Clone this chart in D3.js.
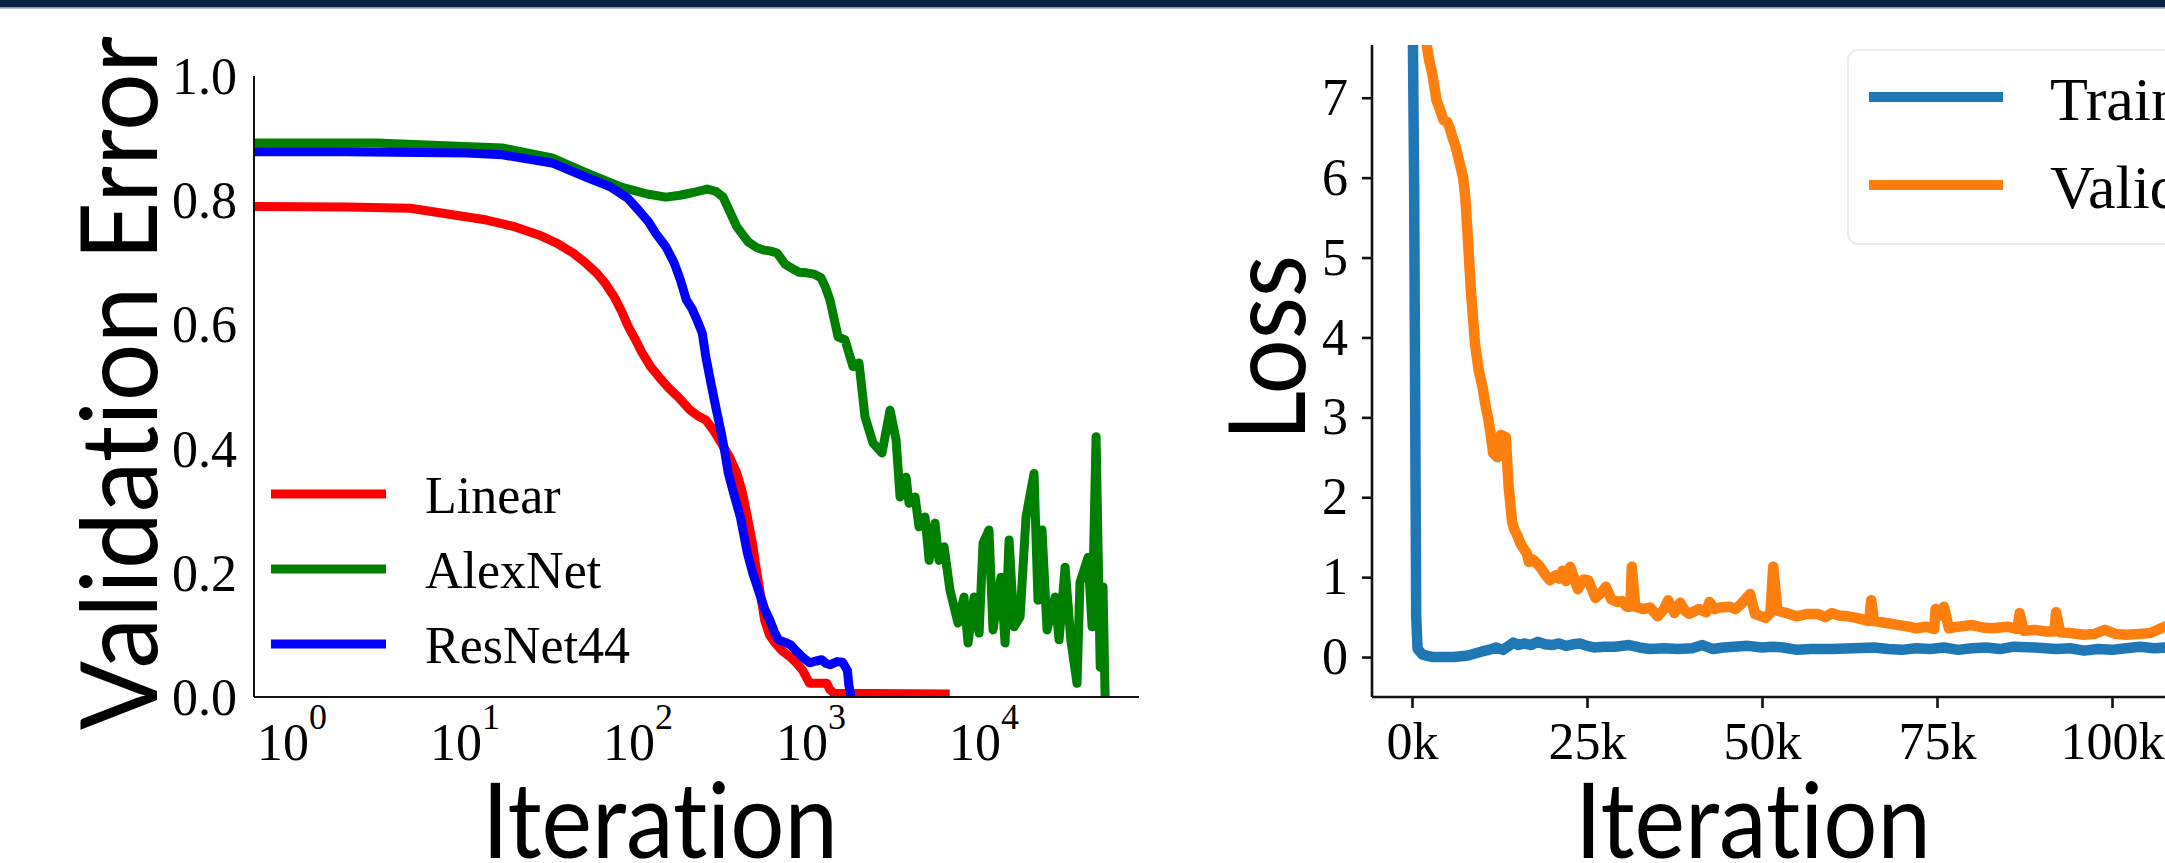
<!DOCTYPE html>
<html>
<head>
<meta charset="utf-8">
<script src="https://cdn.jsdelivr.net/npm/d3@7"></script>
<style>
  html, body { margin: 0; padding: 0; background: #fff; }
  svg { display: block; }
  text { font-variant-ligatures: none; font-feature-settings: "liga" 0, "clig" 0; }
</style>
</head>
<body>
<svg id="chart" width="2165" height="863"></svg>
<script>
// ---- left panel: validation error vs iteration (log x) ----
const linearIter = [0.59, 2, 4.7, 13, 19, 26, 33, 41, 48, 56, 63, 71, 78, 85, 93, 102, 115, 129, 146, 166, 195, 218, 240, 265, 295, 330, 363, 390, 417, 445, 468, 497, 525, 560, 603, 660, 741, 800, 871, 955, 1050, 1202, 1250, 1318, 6170];
const linearErr  = [0.79, 0.789, 0.787, 0.768, 0.757, 0.744, 0.731, 0.715, 0.7, 0.683, 0.666, 0.644, 0.622, 0.598, 0.578, 0.556, 0.532, 0.515, 0.498, 0.483, 0.462, 0.452, 0.446, 0.43, 0.409, 0.386, 0.36, 0.33, 0.29, 0.25, 0.209, 0.165, 0.124, 0.1, 0.087, 0.075, 0.064, 0.055, 0.043, 0.022, 0.022, 0.022, 0.012, 0.006, 0.005];

const alexIter = [0.59, 3, 16, 31, 49, 78, 110, 141, 170, 200, 245, 275, 302, 363, 421, 470, 514, 570, 620, 689, 760, 830, 920, 1014, 1112, 1180, 1254, 1396, 1531, 1703, 1844, 1997, 2222, 2505, 2788, 3020, 3185, 3450, 3590, 3890, 4100, 4440, 4690, 5070, 5350, 5720, 6190, 6890, 7460, 7870, 8530, 9120, 9610, 10400, 10970, 12200, 12880, 13590, 14520, 15730, 17030, 18940, 19970, 21070, 22520, 25070, 26430, 28640, 30900, 33570, 34910, 38900, 41000, 43250, 45700, 47450, 48800];
const alexErr  = [0.892, 0.892, 0.884, 0.868, 0.844, 0.821, 0.81, 0.805, 0.808, 0.812, 0.818, 0.814, 0.805, 0.757, 0.733, 0.724, 0.72, 0.718, 0.715, 0.697, 0.69, 0.684, 0.683, 0.681, 0.675, 0.66, 0.639, 0.58, 0.575, 0.532, 0.538, 0.451, 0.409, 0.393, 0.462, 0.414, 0.322, 0.354, 0.312, 0.322, 0.274, 0.29, 0.22, 0.28, 0.22, 0.242, 0.172, 0.119, 0.161, 0.087, 0.161, 0.103, 0.248, 0.269, 0.108, 0.193, 0.087, 0.253, 0.113, 0.129, 0.29, 0.36, 0.156, 0.269, 0.108, 0.161, 0.092, 0.209, 0.092, 0.022, 0.184, 0.225, 0.113, 0.419, 0.048, 0.177, 0.0];

const resIter = [0.59, 2, 10, 16, 31, 49, 68, 85, 98, 112, 123, 141, 157, 171, 185, 200, 215, 229, 240, 257, 275, 295, 310, 324, 350, 380, 417, 450, 490, 525, 562, 600, 631, 690, 741, 800, 871, 955, 1040, 1122, 1190, 1259, 1380, 1479, 1580, 1610, 1660];
const resErr  = [0.878, 0.878, 0.876, 0.873, 0.86, 0.837, 0.821, 0.803, 0.784, 0.765, 0.747, 0.725, 0.7, 0.672, 0.64, 0.625, 0.605, 0.586, 0.548, 0.505, 0.465, 0.425, 0.392, 0.36, 0.325, 0.29, 0.232, 0.198, 0.167, 0.142, 0.124, 0.104, 0.092, 0.088, 0.084, 0.074, 0.064, 0.055, 0.058, 0.06, 0.054, 0.052, 0.057, 0.056, 0.043, 0.02, 0.0];

const leftSeries = ['Linear', 'AlexNet', 'ResNet44'];
const leftColors = ['#ff0000', '#008000', '#0000ff'];
const errTicks = [0, 0.2, 0.4, 0.6, 0.8, 1.0];
const logTicks = [0, 1, 2, 3, 4];

// ---- right panel: loss vs iteration (thousands) ----
const trainIterK = [0, 0.3, 0.6, 0.8, 1.5, 3, 6, 8, 10, 11, 12, 13, 14.5, 15.2, 16, 17, 18, 19, 20, 21, 22, 23, 24, 25, 26, 27.5, 29, 31, 32.5, 34, 36, 38, 40, 41.5, 43, 44.5, 46, 48, 50, 51.5, 53, 55, 57, 60, 63, 66, 68, 70, 72, 74, 76, 78, 80, 82, 84, 86, 89, 92, 94, 96, 98, 100, 102, 104, 106, 108, 112];
const trainLoss  = [9.0, 6.0, 0.5, 0.1, 0.03, 0.0, 0.0, 0.02, 0.07, 0.09, 0.12, 0.09, 0.18, 0.15, 0.17, 0.15, 0.19, 0.16, 0.15, 0.17, 0.14, 0.16, 0.17, 0.14, 0.12, 0.13, 0.13, 0.15, 0.12, 0.1, 0.11, 0.1, 0.11, 0.15, 0.1, 0.12, 0.13, 0.14, 0.12, 0.13, 0.12, 0.09, 0.1, 0.1, 0.11, 0.12, 0.1, 0.09, 0.11, 0.1, 0.12, 0.09, 0.11, 0.12, 0.1, 0.13, 0.12, 0.1, 0.11, 0.08, 0.1, 0.09, 0.11, 0.13, 0.11, 0.12, 0.11];

const validIterK = [1.5, 2.1, 2.5, 2.9, 3.5, 4.0, 4.5, 5.0, 5.4, 5.8, 6.2, 6.9, 7.3, 7.6, 8.0, 8.4, 9.0, 9.5, 10.1, 10.5, 10.9, 11.3, 11.6, 12.2, 12.5, 12.7, 13.4, 13.8, 14.3, 14.6, 15.0, 15.5, 16.0, 16.4, 16.7, 17.3, 18.3, 18.9, 19.7, 20.5, 21.0, 21.5, 22.0, 22.6, 23.2, 23.7, 24.5, 25.2, 25.7, 26.2, 27.0, 27.7, 28.5, 29.3, 30.0, 30.7, 31.2, 31.4, 31.9, 33, 34, 35.1, 36.0, 36.6, 37.5, 38.3, 39.0, 39.6, 40.5, 41, 42.0, 42.5, 43.2, 44, 45.4, 46.2, 47, 48.3, 49, 50.5, 51.2, 51.6, 52.2, 53.5, 54.9, 56.5, 58, 59, 60, 61, 62.3, 63.5, 65.3, 65.6, 66.0, 67.5, 69.6, 71, 72, 73.5, 74.6, 74.8, 75.5, 76, 76.7, 78, 80, 81.5, 83, 85, 86.5, 86.8, 87.4, 89, 90.5, 91.8, 92.0, 92.6, 94, 96, 97.5, 99, 100.5, 102, 104, 105.5, 107.5, 110];
const validLoss  = [8.5, 7.66, 7.45, 7.3, 6.97, 6.85, 6.72, 6.7, 6.62, 6.5, 6.4, 6.15, 6.0, 5.77, 5.21, 4.6, 3.92, 3.6, 3.37, 3.15, 2.98, 2.75, 2.55, 2.5, 2.62, 2.78, 2.75, 2.14, 1.69, 1.6, 1.53, 1.42, 1.35, 1.3, 1.19, 1.22, 1.13, 1.05, 0.96, 1.02, 0.98, 1.08, 0.95, 1.13, 0.98, 0.85, 0.97, 0.96, 0.85, 0.74, 0.8, 0.88, 0.72, 0.69, 0.7, 0.63, 0.63, 1.13, 0.63, 0.6, 0.62, 0.51, 0.6, 0.71, 0.55, 0.68, 0.58, 0.54, 0.58, 0.6, 0.56, 0.69, 0.6, 0.62, 0.63, 0.6, 0.66, 0.79, 0.54, 0.49, 0.55, 1.13, 0.58, 0.55, 0.51, 0.54, 0.54, 0.5, 0.55, 0.52, 0.51, 0.49, 0.45, 0.71, 0.45, 0.43, 0.4, 0.38, 0.36, 0.38, 0.35, 0.6, 0.52, 0.63, 0.36, 0.38, 0.4, 0.37, 0.36, 0.38, 0.35, 0.55, 0.33, 0.34, 0.32, 0.32, 0.56, 0.31, 0.3, 0.28, 0.29, 0.34, 0.29, 0.28, 0.29, 0.3, 0.38, 0.4];

const rightSeries = ['Training', 'Validation'];
const rightColors = ['#1f77b4', '#ff7f0e'];
const lossTicks = [0, 1, 2, 3, 4, 5, 6, 7];
const iterTicksK = [0, 25, 50, 75, 100];

const serif = '"Liberation Serif", "Times New Roman", serif';
const sans = 'Lato, "DejaVu Sans", sans-serif';

const svg = d3.select('#chart');

// header band
svg.append('rect').attr('x', 0).attr('y', 0).attr('width', 2165).attr('height', 7.5).style('fill', '#0a2240');
svg.append('rect').attr('x', 0).attr('y', 7.5).attr('width', 2165).attr('height', 1.2).style('fill', '#9aa5b3');

const defs = svg.append('defs');

// ================= left panel =================
const xL = d3.scaleLog().domain([0.587, 76600]).range([254, 1139]);
const yL = d3.scaleLinear().domain([0, 1]).range([697, 76]);

defs.append('clipPath').attr('id', 'clipL')
  .append('rect').attr('x', 254).attr('y', 76).attr('width', 885).attr('height', 621);

const gL = svg.append('g').attr('class', 'leftPanel');

const lineL = d3.line().x(d => xL(d[0])).y(d => yL(d[1]));
const leftData = [
  d3.zip(linearIter, linearErr),
  d3.zip(alexIter, alexErr),
  d3.zip(resIter, resErr)
];

gL.append('g').attr('clip-path', 'url(#clipL)')
  .selectAll('path.series')
  .data(leftData)
  .enter()
  .append('path')
  .attr('class', 'series')
  .attr('d', d => lineL(d))
  .style('fill', 'none')
  .style('stroke', (d, i) => leftColors[i])
  .style('stroke-width', 9)
  .style('stroke-linejoin', 'round');

// spines
gL.append('line').attr('x1', 254).attr('x2', 254).attr('y1', 76).attr('y2', 697)
  .style('stroke', '#111').style('stroke-width', 2);
gL.append('line').attr('x1', 254).attr('x2', 1139).attr('y1', 697).attr('y2', 697)
  .style('stroke', '#111').style('stroke-width', 2);

// y tick labels (no tick marks)
gL.selectAll('text.ytick')
  .data(errTicks)
  .enter()
  .append('text')
  .attr('class', 'ytick')
  .attr('x', 237)
  .attr('y', d => yL(d) + 18)
  .attr('text-anchor', 'end')
  .style('font-family', serif)
  .style('font-size', '52px')
  .text(d => d.toFixed(1));

// x tick labels 10^k
const xTickL = gL.selectAll('text.xtick')
  .data(logTicks)
  .enter()
  .append('text')
  .attr('class', 'xtick')
  .attr('x', d => xL(Math.pow(10, d)) - 2)
  .attr('y', 760)
  .attr('text-anchor', 'middle')
  .style('font-family', serif)
  .style('font-size', '52px');
xTickL.append('tspan').text('10');
xTickL.append('tspan').attr('dy', -31).style('font-size', '36px').text(d => d);

// legend (no frame)
const legL = gL.selectAll('g.legL')
  .data(leftSeries)
  .enter()
  .append('g')
  .attr('class', 'legL')
  .attr('transform', (d, i) => `translate(0, ${513 + i * 75})`);
legL.append('line')
  .attr('x1', 271).attr('x2', 386).attr('y1', -19).attr('y2', -19)
  .style('stroke', (d, i) => leftColors[i])
  .style('stroke-width', 9);
legL.append('text')
  .attr('x', 425).attr('y', 0)
  .style('font-family', serif)
  .style('font-size', '52px')
  .text(d => d);

// axis labels
gL.append('text')
  .attr('transform', 'translate(157, 383) rotate(-90)')
  .attr('text-anchor', 'middle')
  .attr('textLength', 694)
  .attr('lengthAdjust', 'spacingAndGlyphs')
  .style('font-family', sans)
  .style('font-size', '106px')
  .text('Validation Error');
gL.append('text')
  .attr('x', 660).attr('y', 858)
  .attr('text-anchor', 'middle')
  .attr('textLength', 356)
  .attr('lengthAdjust', 'spacingAndGlyphs')
  .style('font-family', sans)
  .style('font-size', '104px')
  .text('Iteration');

// ================= right panel =================
const xR = d3.scaleLinear().domain([-5.714, 120]).range([1372, 1372 + 125.714 * 7]);
const yR = d3.scaleLinear().domain([-0.5, 7.66]).range([697, 45]);

defs.append('clipPath').attr('id', 'clipR')
  .append('rect').attr('x', 1372).attr('y', 45).attr('width', 900).attr('height', 652);

const gR = svg.append('g').attr('class', 'rightPanel');
const lineR = d3.line().x(d => xR(d[0])).y(d => yR(d[1]));
const rightData = [d3.zip(trainIterK, trainLoss), d3.zip(validIterK, validLoss)];

gR.append('g').attr('clip-path', 'url(#clipR)')
  .selectAll('path.series')
  .data(rightData)
  .enter()
  .append('path')
  .attr('class', 'series')
  .attr('d', d => lineR(d))
  .style('fill', 'none')
  .style('stroke', (d, i) => rightColors[i])
  .style('stroke-width', 10.5)
  .style('stroke-linejoin', 'round');

const yAxisR = d3.axisLeft(yR).tickValues(lossTicks).tickSize(10).tickPadding(14).tickFormat(d3.format('d'));
const xAxisR = d3.axisBottom(xR).tickValues(iterTicksK).tickSize(11).tickPadding(14).tickFormat(d => d + 'k');

const gyR = gR.append('g').attr('transform', 'translate(1372,0)').call(yAxisR);
const gxR = gR.append('g').attr('transform', 'translate(0,697)').call(xAxisR);
[gyR, gxR].forEach(g => {
  g.select('.domain').style('stroke', '#111').style('stroke-width', 2.6);
  g.selectAll('.tick line').style('stroke', '#111').style('stroke-width', 2.6);
  g.selectAll('.tick text')
    .style('font-family', serif)
    .style('font-size', '52px')
    .style('fill', '#000');
});
// domain path starts at outer tick: redraw plain spines
gyR.select('.domain').attr('d', 'M0,45V697');
gxR.select('.domain').attr('d', 'M1372,0H2165');

// legend with light frame
const legR = gR.append('g').attr('class', 'legR');
legR.append('rect')
  .attr('x', 1848).attr('y', 50).attr('width', 420).attr('height', 194).attr('rx', 10)
  .style('fill', '#fff').style('fill-opacity', 0.8)
  .style('stroke', '#ececec').style('stroke-width', 2);
const legItems = legR.selectAll('g.item')
  .data(rightSeries)
  .enter()
  .append('g')
  .attr('class', 'item')
  .attr('transform', (d, i) => `translate(0, ${120 + i * 88})`);
legItems.append('line')
  .attr('x1', 1869).attr('x2', 2003).attr('y1', -23).attr('y2', -23)
  .style('stroke', (d, i) => rightColors[i])
  .style('stroke-width', 10);
legItems.append('text')
  .attr('x', 2050).attr('y', 0)
  .style('font-family', serif)
  .style('font-size', '62px')
  .text(d => d);

gR.append('text')
  .attr('transform', 'translate(1305, 348) rotate(-90)')
  .attr('text-anchor', 'middle')
  .attr('textLength', 186)
  .attr('lengthAdjust', 'spacingAndGlyphs')
  .style('font-family', sans)
  .style('font-size', '106px')
  .text('Loss');
gR.append('text')
  .attr('x', 1753).attr('y', 858)
  .attr('text-anchor', 'middle')
  .attr('textLength', 356)
  .attr('lengthAdjust', 'spacingAndGlyphs')
  .style('font-family', sans)
  .style('font-size', '104px')
  .text('Iteration');
</script>
</body>
</html>
